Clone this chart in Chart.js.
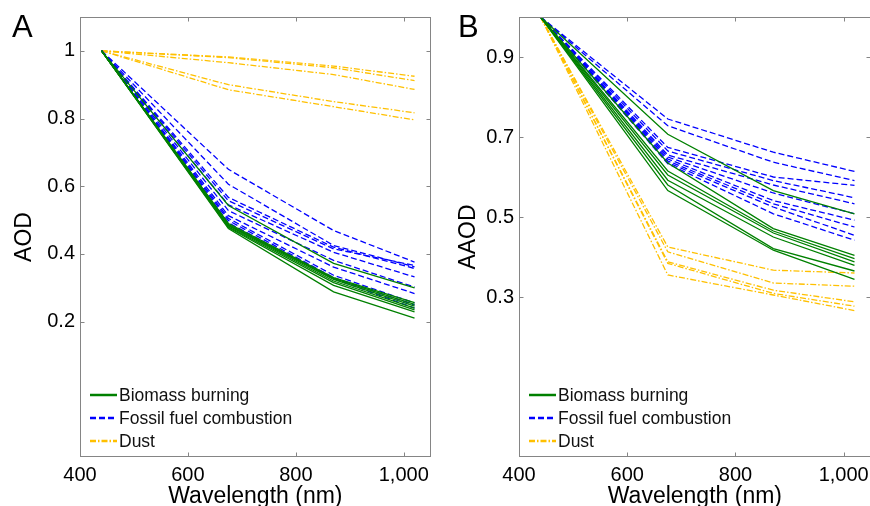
<!DOCTYPE html>
<html>
<head>
<meta charset="utf-8">
<script src="https://cdn.jsdelivr.net/npm/chart.js@4/dist/chart.umd.min.js"></script>
<style>
  html, body { margin: 0; padding: 0; background: #fff; overflow: hidden; }
  #wrapA { position: absolute; left: 0; top: 0; width: 435px; height: 520px; }
  #wrapB { position: absolute; left: 435px; top: 0; width: 440px; height: 520px; }
</style>
</head>
<body>
<div id="wrapA"><canvas id="chartA"></canvas></div>
<div id="wrapB"><canvas id="chartB"></canvas></div>
<script>
const wavelengths = [440, 675, 870, 1020];
const xTicks = [400, 600, 800, 1000];
const groupNames = ['Biomass burning', 'Fossil fuel combustion', 'Dust'];

// panel A - AOD, normalised at 440 nm
const aodBiomass = [
    [1, 0.543, 0.372, 0.300],
    [1, 0.490, 0.330, 0.256],
    [1, 0.487, 0.328, 0.251],
    [1, 0.485, 0.325, 0.246],
    [1, 0.483, 0.320, 0.240],
    [1, 0.480, 0.315, 0.235],
    [1, 0.478, 0.307, 0.229],
    [1, 0.475, 0.288, 0.210]
];
const aodFossil = [
    [1, 0.650, 0.469, 0.376],
    [1, 0.606, 0.425, 0.362],
    [1, 0.567, 0.420, 0.357],
    [1, 0.557, 0.415, 0.366],
    [1, 0.545, 0.405, 0.332],
    [1, 0.528, 0.381, 0.302],
    [1, 0.513, 0.361, 0.283],
    [1, 0.505, 0.337, 0.255],
    [1, 0.499, 0.330, 0.249],
    [1, 0.492, 0.327, 0.240]
];
const aodDust = [
    [1, 0.982, 0.955, 0.925],
    [1, 0.980, 0.950, 0.912],
    [1, 0.965, 0.930, 0.886],
    [1, 0.900, 0.850, 0.817],
    [1, 0.885, 0.835, 0.796]
];
const aodTicks = [0.2, 0.4, 0.6, 0.8, 1];

// panel B - AAOD, normalised at 440 nm
const aaodBiomass = [
    [1, 0.707, 0.566, 0.508],
    [1, 0.635, 0.471, 0.404],
    [1, 0.615, 0.465, 0.396],
    [1, 0.605, 0.460, 0.388],
    [1, 0.592, 0.450, 0.379],
    [1, 0.580, 0.421, 0.365],
    [1, 0.566, 0.417, 0.344]
];
const aaodFossil = [
    [1, 0.745, 0.662, 0.614],
    [1, 0.728, 0.637, 0.591],
    [1, 0.674, 0.600, 0.579],
    [1, 0.665, 0.591, 0.548],
    [1, 0.655, 0.580, 0.533],
    [1, 0.650, 0.560, 0.508],
    [1, 0.645, 0.541, 0.492],
    [1, 0.640, 0.533, 0.475],
    [1, 0.636, 0.525, 0.454],
    [1, 0.633, 0.508, 0.442]
];
const aaodDust = [
    [1, 0.425, 0.367, 0.360],
    [1, 0.413, 0.335, 0.327],
    [1, 0.388, 0.317, 0.288],
    [1, 0.384, 0.309, 0.277],
    [1, 0.355, 0.305, 0.266]
];
const aaodTicks = [0.3, 0.5, 0.7, 0.9];

const FONT = "'Liberation Sans', Arial, sans-serif";
const styles = [
    { color: '#008000', dash: [] },
    { color: '#0000ff', dash: [6, 3] },
    { color: '#ffc000', dash: [6, 2, 1.5, 2] }
];

function makeDatasets(groups) {
    let sets = [];
    groups.forEach((rows, g) => {
        rows.forEach(vals => {
            sets.push({
                label: groupNames[g],
                data: vals.map((v, i) => ({ x: wavelengths[i], y: v })),
                borderColor: styles[g].color,
                borderDash: styles[g].dash,
                borderWidth: 1.3,
                pointRadius: 0,
                fill: false,
                tension: 0
            });
        });
    });
    return sets;
}

// box, inward ticks, legend and panel letter (MATLAB look)
const framePlugin = {
    id: 'frame',
    afterDraw(chart, args, opts) {
        const ctx = chart.ctx;
        const a = chart.chartArea;
        const xs = chart.scales.x, ys = chart.scales.y;
        const l = Math.round(a.left) + 0.5, r = Math.round(a.right) - 0.5;
        const t = Math.round(a.top) + 0.5, b = Math.round(a.bottom) - 0.5;
        ctx.save();
        ctx.strokeStyle = '#858585';
        ctx.lineWidth = 1;
        ctx.setLineDash([]);
        ctx.strokeRect(l, t, r - l, b - t);
        ctx.beginPath();
        xs.ticks.forEach(tk => {
            const px = Math.round(xs.getPixelForValue(tk.value)) + 0.5;
            ctx.moveTo(px, b); ctx.lineTo(px, b - 4);
            ctx.moveTo(px, t); ctx.lineTo(px, t + 4);
        });
        ys.ticks.forEach(tk => {
            const py = Math.round(ys.getPixelForValue(tk.value)) + 0.5;
            ctx.moveTo(l, py); ctx.lineTo(l + 4, py);
            ctx.moveTo(r, py); ctx.lineTo(r - 4, py);
        });
        ctx.stroke();

        // legend
        const offsets = [56, 33, 10];
        ctx.font = '17.5px ' + FONT;
        ctx.textBaseline = 'alphabetic';
        ctx.textAlign = 'left';
        groupNames.forEach((name, g) => {
            const base = a.bottom - offsets[g];
            ctx.strokeStyle = styles[g].color;
            ctx.lineWidth = 2.5;
            ctx.setLineDash(styles[g].dash);
            ctx.beginPath();
            ctx.moveTo(a.left + 10, base - 6);
            ctx.lineTo(a.left + 37, base - 6);
            ctx.stroke();
            ctx.fillStyle = '#111';
            ctx.fillText(name, a.left + 39, base);
        });

        // panel letter
        ctx.font = '31px ' + FONT;
        ctx.fillStyle = '#000';
        ctx.fillText(opts.letter, opts.letterX, 37);
        ctx.restore();
    }
};

function drawPanel(canvas, groups, yMin, yMax, yTicks, yTitle, axisWidth, titlePad, padRight, letter, letterX) {
    return new Chart(canvas, {
        type: 'line',
        data: { datasets: makeDatasets(groups) },
        options: {
            responsive: true,
            maintainAspectRatio: false,
            devicePixelRatio: 1,
            animation: false,
            layout: { padding: { top: 16, right: padRight, left: 0, bottom: 0 } },
            plugins: {
                legend: { display: false },
                tooltip: { enabled: false },
                frame: { letter: letter, letterX: letterX }
            },
            scales: {
                x: {
                    type: 'linear',
                    min: 400,
                    max: 1050,
                    grid: { display: false, drawTicks: false },
                    border: { display: false },
                    afterBuildTicks: s => { s.ticks = xTicks.map(v => ({ value: v })); },
                    afterFit: s => { s.height = 63; },
                    ticks: {
                        padding: 6,
                        maxRotation: 0,
                        autoSkip: false,
                        color: '#000',
                        font: { size: 20, family: FONT },
                        callback: v => v.toLocaleString('en-US')
                    },
                    title: {
                        display: true,
                        text: 'Wavelength (nm)',
                        color: '#000',
                        font: { size: 23, family: FONT },
                        padding: { top: 0, bottom: 10 }
                    }
                },
                y: {
                    type: 'linear',
                    min: yMin,
                    max: yMax,
                    grid: { display: false, drawTicks: false },
                    border: { display: false },
                    afterBuildTicks: s => { s.ticks = yTicks.map(v => ({ value: v })); },
                    afterFit: s => { s.width = axisWidth; },
                    ticks: {
                        padding: 5,
                        autoSkip: false,
                        color: '#000',
                        font: { size: 20, family: FONT },
                        callback: v => String(v)
                    },
                    title: {
                        display: true,
                        text: yTitle,
                        color: '#000',
                        font: { size: 23, family: FONT },
                        padding: { top: titlePad, bottom: 0 }
                    }
                }
            }
        },
        plugins: [framePlugin]
    });
}

drawPanel(document.getElementById('chartA'), [aodBiomass, aodFossil, aodDust],
    -0.2, 1.1, aodTicks, 'AOD', 80, 11, 3, 'A', 12);
drawPanel(document.getElementById('chartB'), [aaodBiomass, aaodFossil, aaodDust],
    -0.1, 1.0, aaodTicks, 'AAOD', 84, 20, 4, 'B', 23);
</script>
</body>
</html>
